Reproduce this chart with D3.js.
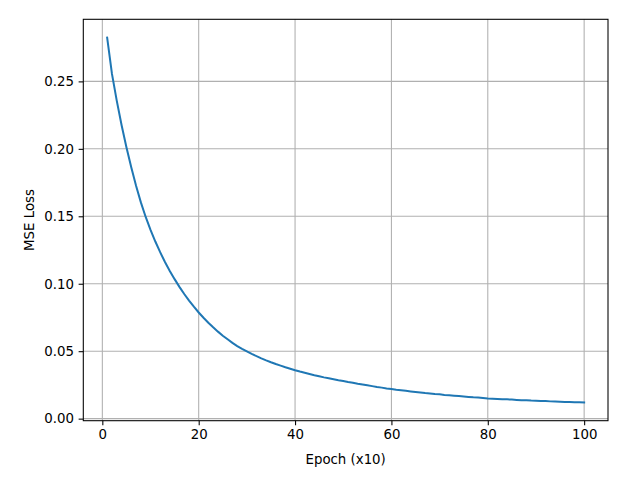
<!DOCTYPE html>
<html>
<head>
<meta charset="utf-8">
<script src="https://cdn.jsdelivr.net/npm/d3@7"></script>
<style>
  body { margin: 0; background: #fff; }
  text { font-family: "DejaVu Sans", sans-serif; }
</style>
</head>
<body>
<div id="chart"></div>
<script>
// loss per epoch (x10)
var epochs = d3.range(1, 101)
var lossValues = [
  0.2825, 0.2555, 0.2355, 0.2175, 0.2012, 0.1863, 0.1727, 0.1603, 0.1495, 0.1399,
  0.1313, 0.1234, 0.1161, 0.1095, 0.1034, 0.0977, 0.0924, 0.0875, 0.0830, 0.0787,
  0.0748, 0.0711, 0.0677, 0.0645, 0.0615, 0.0588, 0.0562, 0.0538, 0.0517, 0.0498,
  0.0480, 0.0463, 0.0447, 0.0432, 0.0418, 0.0405, 0.0393, 0.0381, 0.0370, 0.0359,
  0.0349, 0.0340, 0.0331, 0.0322, 0.0314, 0.0306, 0.0299, 0.0292, 0.0285, 0.0279,
  0.0272, 0.0266, 0.0259, 0.0253, 0.0247, 0.0241, 0.0235, 0.0230, 0.0224, 0.0219,
  0.0214, 0.0210, 0.0206, 0.0202, 0.0198, 0.0194, 0.0190, 0.0187, 0.0183, 0.0180,
  0.0176, 0.0173, 0.0170, 0.0167, 0.0164, 0.0161, 0.0158, 0.0156, 0.0153, 0.0150,
  0.0148, 0.0146, 0.0144, 0.0143, 0.0141, 0.0139, 0.0137, 0.0136, 0.0134, 0.0133,
  0.0131, 0.0130, 0.0128, 0.0127, 0.0126, 0.0124, 0.0123, 0.0122, 0.0121, 0.0120
]
var xTicks = [0, 20, 40, 60, 80, 100]
var yTicks = [0, 0.05, 0.10, 0.15, 0.20, 0.25]

var width = 640, height = 480
var margin = {left: 83.3, right: 32, top: 19.3, bottom: 59.3}

function drawGraph() {
    const svg = d3.select('#chart')
        .append('svg')
        .attr('width', width)
        .attr('height', height)

    svg.append('rect').attr('width', width).attr('height', height).attr('fill', 'white')

    // matplotlib style 5% padding
    var xMin = d3.min(epochs), xMax = d3.max(epochs)
    var xPad = (xMax - xMin) * 0.05
    var yMin = d3.min(lossValues), yMax = d3.max(lossValues)
    var yPad = (yMax - yMin) * 0.05

    var x = d3.scaleLinear()
        .domain([xMin - xPad, xMax + xPad])
        .range([margin.left, width - margin.right])
    var y = d3.scaleLinear()
        .domain([yMin - yPad, yMax + yPad])
        .range([height - margin.bottom, margin.top])

    // grid
    svg.append('g')
        .selectAll('line')
        .data(xTicks)
        .enter()
        .append('line')
        .attr('x1', d => x(d)).attr('x2', d => x(d))
        .attr('y1', margin.top).attr('y2', height - margin.bottom)
        .attr('stroke', '#b0b0b0')
        .attr('stroke-width', 1.07)
    svg.append('g')
        .selectAll('line')
        .data(yTicks)
        .enter()
        .append('line')
        .attr('y1', d => y(d)).attr('y2', d => y(d))
        .attr('x1', margin.left).attr('x2', width - margin.right)
        .attr('stroke', '#b0b0b0')
        .attr('stroke-width', 1.07)

    // the loss curve
    var line = d3.line()
        .x((d, i) => x(epochs[i]))
        .y(d => y(d))
    svg.append('path')
        .datum(lossValues)
        .attr('d', line)
        .attr('fill', 'none')
        .attr('stroke', '#1f77b4')
        .attr('stroke-width', 2)
        .attr('stroke-linecap', 'square')

    // axes
    var xAxis = svg.append('g')
        .attr('transform', 'translate(0,' + (height - margin.bottom) + ')')
        .call(d3.axisBottom(x).tickValues(xTicks).tickFormat(d3.format('d')).tickSizeInner(4.67).tickSizeOuter(0).tickPadding(4.67))
    var yAxis = svg.append('g')
        .attr('transform', 'translate(' + margin.left + ',0)')
        .call(d3.axisLeft(y).tickValues(yTicks).tickFormat(d3.format('.2f')).tickSizeInner(4.67).tickSizeOuter(0).tickPadding(4.67))

    ;[xAxis, yAxis].forEach(function(a) {
        a.select('.domain').remove()
        a.selectAll('.tick line').attr('stroke', 'black').attr('stroke-width', 1.07)
        a.selectAll('.tick text')
            .style('font-family', '"DejaVu Sans", sans-serif')
            .style('font-size', '13.33px')
            .attr('fill', 'black')
    })

    // frame
    svg.append('rect')
        .attr('x', margin.left)
        .attr('y', margin.top)
        .attr('width', width - margin.left - margin.right)
        .attr('height', height - margin.top - margin.bottom)
        .attr('fill', 'none')
        .attr('stroke', 'black')
        .attr('stroke-width', 1.07)

    // labels
    svg.append('text')
        .text('Epoch (x10)')
        .attr('x', (margin.left + width - margin.right) / 2)
        .attr('y', 464)
        .style('text-anchor', 'middle')
        .style('font-size', '13.33px')
    svg.append('text')
        .text('MSE Loss')
        .attr('transform', 'translate(34,' + ((margin.top + height - margin.bottom) / 2) + ') rotate(-90)')
        .style('text-anchor', 'middle')
        .style('font-size', '13.33px')
}

drawGraph()
</script>
</body>
</html>
